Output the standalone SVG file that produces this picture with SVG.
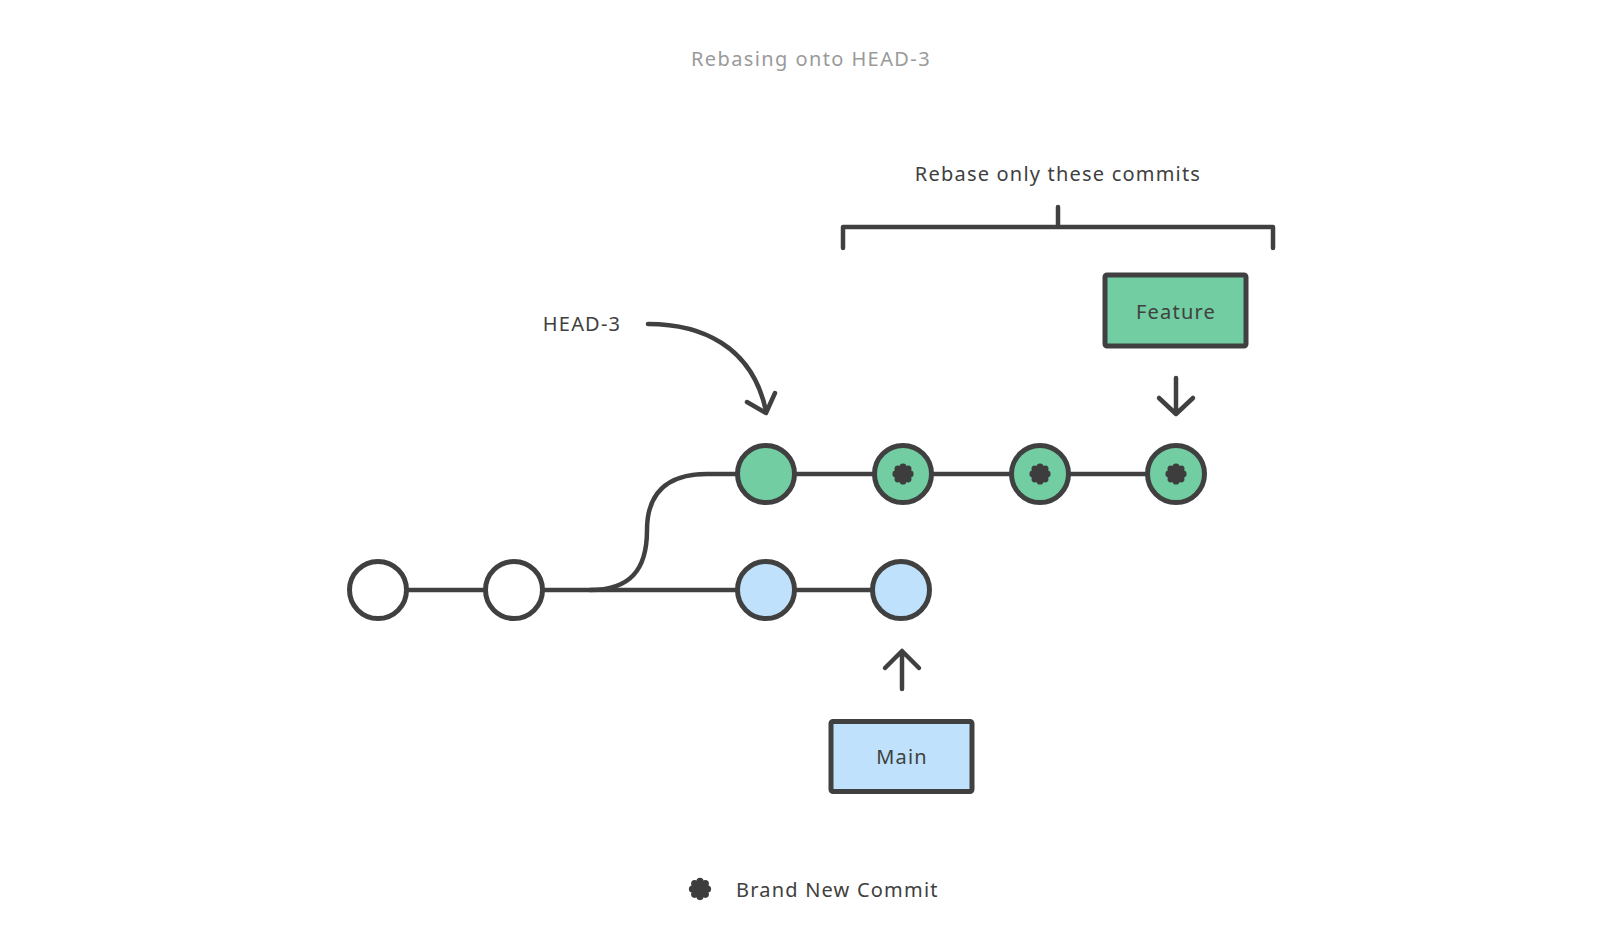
<svg xmlns="http://www.w3.org/2000/svg" width="1618" height="926" viewBox="0 0 1618 926">
<style>
text{font-family:"Noto Sans","Liberation Sans",sans-serif;letter-spacing:1.2px}
.t{font-size:20px;fill:#404040}
.title{font-size:20px;fill:#9a9a9a;letter-spacing:1.4px}
.ln{fill:none;stroke:#404040;stroke-width:4.5;stroke-linecap:round;stroke-linejoin:round}
.c{stroke:#404040;stroke-width:5}
.white{fill:#ffffff}
.green{fill:#72cda2}
.blue{fill:#bfe1fb}
.box{stroke:#404040;stroke-width:5;stroke-linejoin:round}
</style>
<defs>
<g id="flower" fill="#3d3d3d">
<circle r="5.5"/>
<circle cx="0" cy="-7.2" r="3.4"/>
<circle cx="5.1" cy="-5.1" r="3.4"/>
<circle cx="7.2" cy="0" r="3.4"/>
<circle cx="5.1" cy="5.1" r="3.4"/>
<circle cx="0" cy="7.2" r="3.4"/>
<circle cx="-5.1" cy="5.1" r="3.4"/>
<circle cx="-7.2" cy="0" r="3.4"/>
<circle cx="-5.1" cy="-5.1" r="3.4"/>
</g>
</defs>
<rect width="1618" height="926" fill="#ffffff"/>
<text class="title" x="811" y="66" text-anchor="middle">Rebasing onto HEAD-3</text>
<g id="connectors">
<path class="ln" d="M378,590 H766"/>
<path class="ln" d="M590,590 C630,590 647,570 647,530 C647,495 665,474 707,474 H1176"/>
<path class="ln" d="M766,590 H901"/>
<path class="ln" d="M648,324 C700,324 752,345 766,411"/>
<path class="ln" d="M747,402 L766,413 L775,393"/>
<path class="ln" d="M1176,378 V414 M1159,398 L1176,414 L1193,398"/>
<path class="ln" d="M902,689 V652 M885,668 L902,651 L919,668"/>
<path class="ln" d="M843,248 V227 H1273 V248 M1058,227 V207"/>
</g>
<text class="t" x="1058" y="181" text-anchor="middle">Rebase only these commits</text>
<g id="label-head3"><text class="t" x="582" y="331" text-anchor="middle">HEAD-3</text></g>
<g id="c1"><circle class="c white" cx="378" cy="590" r="28.5"/></g>
<g id="c2"><circle class="c white" cx="514" cy="590" r="28.5"/></g>
<g id="c3"><circle class="c blue" cx="766" cy="590" r="28.5"/></g>
<g id="c4"><circle class="c blue" cx="901" cy="590" r="28.5"/></g>
<g id="f1"><circle class="c green" cx="766" cy="474" r="28.5"/></g>
<g id="f2"><circle class="c green" cx="903" cy="474" r="28.5"/><use href="#flower" x="903" y="474"/></g>
<g id="f3"><circle class="c green" cx="1040" cy="474" r="28.5"/><use href="#flower" x="1040" y="474"/></g>
<g id="f4"><circle class="c green" cx="1176" cy="474" r="28.5"/><use href="#flower" x="1176" y="474"/></g>
<g id="feature"><rect class="box green" x="1105" y="275" width="141" height="71" rx="2"/><text class="t" x="1176" y="319" text-anchor="middle">Feature</text></g>
<g id="main"><rect class="box blue" x="831" y="721.5" width="141" height="70" rx="2"/><text class="t" x="902" y="764" text-anchor="middle" fill="#222">Main</text></g>
<g id="legend"><use href="#flower" transform="translate(700,889) scale(1.05)"/><text class="t" x="736" y="897">Brand New Commit</text></g>
</svg>
